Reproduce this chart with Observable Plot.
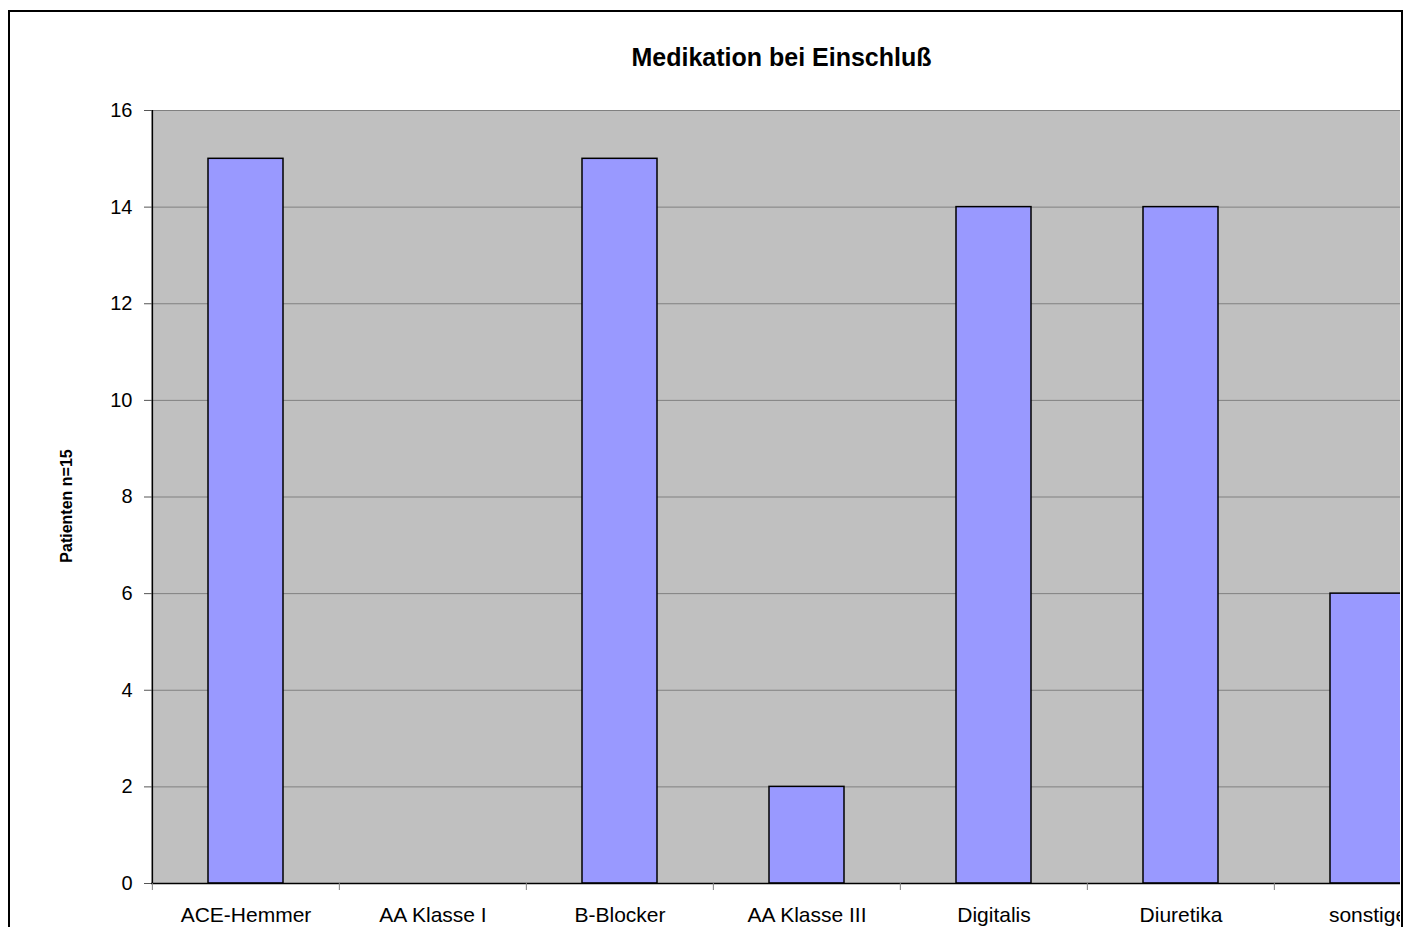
<!DOCTYPE html>
<html>
<head>
<meta charset="utf-8">
<script src="https://cdn.jsdelivr.net/npm/d3@7"></script>
<script src="https://cdn.jsdelivr.net/npm/@observablehq/plot@0.6"></script>
<style>
  html, body { margin: 0; padding: 0; background: #fff; }
  #chart {
    position: relative; width: 1407px; height: 927px; overflow: hidden;
    font-family: "Liberation Sans", Arial, sans-serif; color: #000;
  }
  #title-area { position: relative; height: 85px; }
  #title {
    position: absolute; top: 45px; left: 781.5px; transform: translateX(-50%);
    font-size: 25px; line-height: 25px; font-weight: bold; white-space: nowrap;
  }
  #clip { width: 1400px; overflow: hidden; }
  #clip svg { max-width: none !important; }
  #border {
    position: absolute; left: 7.5px; top: 10px; width: 1391px; height: 1000px;
    border: 2.5px solid #000; pointer-events: none;
  }
</style>
</head>
<body>
<div id="chart">
  <div id="title-area"><div id="title">Medikation bei Einschluß</div></div>
  <div id="clip"></div>
  <div id="border"></div>
</div>
<script>
// Medication at inclusion, number of patients (n = 15)
const categories = ["ACE-Hemmer", "AA Klasse I", "B-Blocker", "AA Klasse III", "Digitalis", "Diuretika", "sonstige"];
const patients = [15, 0, 15, 2, 14, 14, 6];
const yTicks = [0, 2, 4, 6, 8, 10, 12, 14, 16];
const yLabel = "Patienten n=15";

const data = categories.map((c, i) => ({category: c, value: patients[i]}));

const width = 1470, marginLeft = 151, marginRight = 8;
const bandwidth = (width - marginLeft - marginRight) / categories.length;

const chart = Plot.plot({
  width,
  height: 858,
  marginTop: 25,
  marginBottom: 60,
  marginLeft,
  marginRight,
  style: {fontFamily: "'Liberation Sans', Arial, sans-serif", color: "#000", background: "transparent", maxWidth: "none"},
  x: {domain: categories, padding: 0, label: null},
  y: {domain: [0, 16], label: null},
  marks: [
    Plot.frame({fill: "#C0C0C0"}),
    Plot.gridY(yTicks, {stroke: "#808080", strokeOpacity: 1}),
    Plot.barY(data.filter(d => d.value > 0), {
      x: "category", y: "value", fill: "#9999FF", stroke: "#000", strokeWidth: 1.5,
      insetLeft: 56, insetRight: 56
    }),
    // axis lines
    Plot.ruleY([0], {stroke: "#000", strokeWidth: 1.5}),
    Plot.ruleX([categories[0]], {dx: -bandwidth / 2, stroke: "#000", strokeWidth: 1.5}),
    // y axis
    Plot.axisY(yTicks, {tickSize: 7, tickPadding: 12, fontSize: 20, stroke: "#555", label: null}),
    // category tick marks at band boundaries
    Plot.axisX({tickSize: 7, tickFormat: () => "", dx: -bandwidth / 2, stroke: "#808080", label: null}),
    // category labels
    Plot.axisX({tickSize: 0, tickPadding: 24, fontSize: 21, label: null}),
    // y axis title
    Plot.text([yLabel], {
      frameAnchor: "left", textAnchor: "middle", lineAnchor: "middle", rotate: -90,
      dx: -84.5, dy: 9, fontSize: 16, fontWeight: "bold", fill: "#000"
    })
  ]
});

document.getElementById("clip").appendChild(chart);
</script>
</body>
</html>
